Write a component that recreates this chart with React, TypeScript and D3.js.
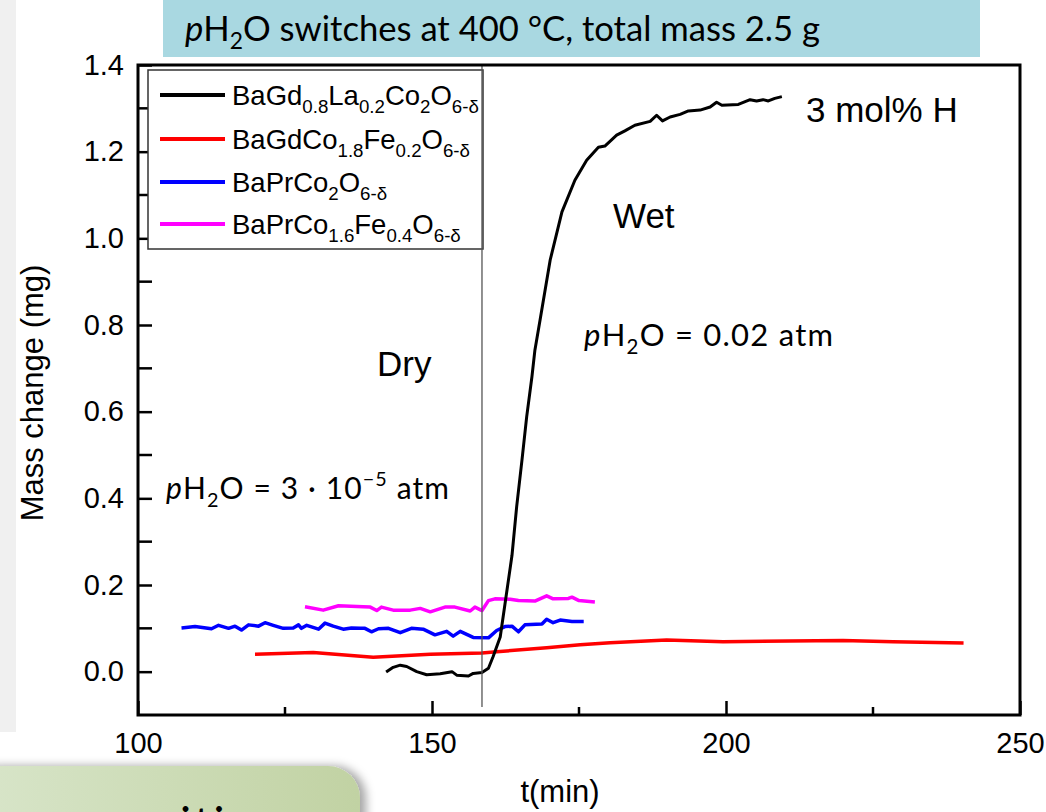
import React, { useRef, useEffect } from "react";
import * as d3 from "d3";

// BaGd0.8La0.2Co2O6-d (black)
const blackT = [142.2, 143.4, 144.6, 145.7, 147.4, 149.1, 151.4, 153.4, 154.2, 156.2, 157.0, 158.5, 159.6, 160.4, 161.6, 162.4, 163.6, 164.4, 165.3, 166.1, 167.0, 167.5, 168.4, 170.1, 172.1, 174.3, 176.3, 178.3, 179.4, 181.4, 182.8, 184.5, 187.1, 188.2, 189.2, 190.5, 192.2, 193.6, 195.6, 197.3, 198.4, 199.3, 202.1, 204.1, 205.2, 206.3, 207.2, 208.3, 209.5];
const blackM = [-0.001, 0.01, 0.015, 0.012, 0.0, -0.007, -0.005, 0.0, -0.008, -0.01, -0.004, -0.002, 0.008, 0.035, 0.08, 0.155, 0.268, 0.381, 0.488, 0.588, 0.681, 0.742, 0.813, 0.95, 1.061, 1.134, 1.18, 1.21, 1.213, 1.238, 1.248, 1.261, 1.27, 1.284, 1.271, 1.28, 1.286, 1.294, 1.296, 1.303, 1.314, 1.307, 1.309, 1.32, 1.317, 1.32, 1.317, 1.323, 1.327];

// BaGdCo1.8Fe0.2O6-d (red)
const redT = [119.9, 129.8, 140.0, 149.7, 158.5, 161.0, 169.5, 175.2, 180.3, 189.9, 199.5, 219.9, 228.4, 240.4];
const redM = [0.040, 0.044, 0.033, 0.040, 0.043, 0.046, 0.055, 0.062, 0.067, 0.073, 0.069, 0.072, 0.069, 0.066];

// BaPrCo2O6-d (blue)
const blueT = [107.4, 109.7, 112.5, 113.7, 115.4, 116.5, 117.6, 118.8, 120.5, 121.6, 123.0, 124.7, 126.4, 127.3, 127.8, 128.7, 130.7, 131.8, 133.2, 134.9, 136.3, 137.8, 138.6, 139.7, 140.9, 142.6, 144.6, 146.5, 148.5, 150.5, 152.5, 153.6, 154.8, 157.0, 159.6, 161.0, 162.4, 163.6, 164.7, 165.8, 168.7, 169.5, 170.6, 171.8, 173.8, 175.8];
const blueM = [0.101, 0.104, 0.099, 0.107, 0.100, 0.105, 0.096, 0.108, 0.105, 0.113, 0.107, 0.100, 0.101, 0.108, 0.100, 0.107, 0.098, 0.112, 0.105, 0.098, 0.101, 0.100, 0.100, 0.092, 0.099, 0.100, 0.090, 0.100, 0.098, 0.085, 0.093, 0.082, 0.093, 0.079, 0.078, 0.095, 0.104, 0.105, 0.092, 0.108, 0.110, 0.121, 0.113, 0.119, 0.116, 0.116];

// BaPrCo1.6Fe0.4O6-d (magenta)
const magT = [128.4, 131.5, 134.1, 138.3, 139.5, 140.6, 141.4, 143.4, 146.3, 148.0, 149.7, 152.2, 153.9, 156.5, 157.3, 158.5, 159.6, 160.7, 163.3, 164.7, 167.5, 169.5, 170.6, 173.2, 173.8, 175.0, 177.7];
const magM = [0.150, 0.142, 0.152, 0.150, 0.149, 0.141, 0.149, 0.142, 0.142, 0.146, 0.138, 0.149, 0.149, 0.140, 0.149, 0.141, 0.164, 0.168, 0.167, 0.164, 0.163, 0.175, 0.168, 0.169, 0.172, 0.164, 0.161];

const xTicks = [100, 150, 200, 250];
const xMinor = [125, 175, 225];
const yTicks = [0, 0.2, 0.4, 0.6, 0.8, 1.0, 1.2, 1.4];
const yMinor = [0.1, 0.3, 0.5, 0.7, 0.9, 1.1, 1.3];

const seriesColors = ["#000000", "#ff0000", "#0000ff", "#ff00ff"];
// segments: 0 = normal, 1 = subscript
const legendLabels: [string, number][][] = [
  [["BaGd", 0], ["0.8", 1], ["La", 0], ["0.2", 1], ["Co", 0], ["2", 1], ["O", 0], ["6-δ", 1]],
  [["BaGdCo", 0], ["1.8", 1], ["Fe", 0], ["0.2", 1], ["O", 0], ["6-δ", 1]],
  [["BaPrCo", 0], ["2", 1], ["O", 0], ["6-δ", 1]],
  [["BaPrCo", 0], ["1.6", 1], ["Fe", 0], ["0.4", 1], ["O", 0], ["6-δ", 1]],
];

const ARIAL = "'Liberation Sans', Arial, sans-serif";
const GILL = "Lato, 'Open Sans', sans-serif";

// 0 normal, 1 sub, 2 super, 3 italic
function richText(g, x, y, segs, size, family, subDy, subScale = 0.66) {
  const t = g.append("text").attr("x", x).attr("y", y)
    .style("font-family", family).style("font-size", size + "px").attr("fill", "#000");
  let shift = 0;
  segs.forEach(([s, k]) => {
    let target = 0;
    if (k === 1) target = subDy;
    if (k === 2) target = -size * 0.42;
    const ts = t.append("tspan").attr("dy", target - shift).text(s);
    if (k === 1 || k === 2) ts.style("font-size", size * subScale + "px");
    if (k === 3) ts.style("font-style", "italic");
    shift = target;
  });
  return t;
}

const Chart = () => {
  const svgRef = useRef(null);

  useEffect(() => {
    const width = 1046;
    const height = 812;
    const svg = d3.select(svgRef.current);
    svg.selectAll("*").remove();

    const x = d3.scaleLinear().domain([100, 250]).range([138, 1020]);
    const y = d3.scaleLinear().domain([-0.1, 1.4]).range([715, 65]);

    const defs = svg.append("defs");
    const grad = defs.append("linearGradient").attr("id", "greenGrad")
      .attr("x1", "0%").attr("x2", "100%").attr("y1", "0%").attr("y2", "0%");
    grad.append("stop").attr("offset", "0%").attr("stop-color", "#d9e6cb");
    grad.append("stop").attr("offset", "100%").attr("stop-color", "#c1d2a3");
    const shadow = defs.append("filter").attr("id", "shadow")
      .attr("x", "-20%").attr("y", "-20%").attr("width", "140%").attr("height", "140%");
    shadow.append("feDropShadow").attr("dx", 6).attr("dy", 0).attr("stdDeviation", 5)
      .attr("flood-color", "#000").attr("flood-opacity", 0.35);

    // backgrounds
    svg.append("rect").attr("x", 0).attr("y", 0).attr("width", 16).attr("height", 732).attr("fill", "#f0f0f0");
    svg.append("rect").attr("x", 163).attr("y", 0).attr("width", 817).attr("height", 57).attr("fill", "#a9d8e1");
    svg.append("rect").attr("x", -40).attr("y", 766).attr("width", 400).attr("height", 100).attr("rx", 32)
      .attr("fill", "url(#greenGrad)").attr("filter", "url(#shadow)");
    svg.append("text").attr("x", 180).attr("y", 840).style("font-family", GILL).style("font-size", "46px")
      .attr("letter-spacing", 3).text("iti");

    // title
    richText(svg, 185, 41, [["p", 3], ["H", 0], ["2", 1], ["O switches at 400 °C, total mass 2.5 g", 0]], 34, GILL, 8)
      .attr("textLength", 635).attr("lengthAdjust", "spacingAndGlyphs");

    // minor ticks
    svg.append("g").selectAll("line").data(xMinor).join("line")
      .attr("x1", d => x(d)).attr("x2", d => x(d)).attr("y1", 715).attr("y2", 707)
      .attr("stroke", "#000").attr("stroke-width", 2.5);
    svg.append("g").selectAll("line").data(yMinor).join("line")
      .attr("x1", 138).attr("x2", 152).attr("y1", d => y(d)).attr("y2", d => y(d))
      .attr("stroke", "#000").attr("stroke-width", 2.5);

    const xAxis = svg.append("g").attr("transform", "translate(0,715)")
      .call(d3.axisBottom(x).tickValues(xTicks).tickSize(-14).tickSizeOuter(0).tickPadding(17).tickFormat(d3.format("d")));
    const yAxis = svg.append("g").attr("transform", "translate(138,0)")
      .call(d3.axisLeft(y).tickValues(yTicks).tickSize(-14).tickSizeOuter(0).tickPadding(14).tickFormat(d3.format(".1f")));
    [xAxis, yAxis].forEach(a => {
      a.select(".domain").remove();
      a.selectAll("line").attr("stroke-width", 2.5);
      a.selectAll("text").style("font-family", ARIAL).style("font-size", "29px").attr("fill", "#000");
    });

    // series
    const series = [
      [blackT, blackM], [redT, redM], [blueT, blueM], [magT, magM],
    ];
    const line = d3.line().x(d => x(d[0])).y(d => y(d[1]));
    const order = [1, 2, 3, 0];
    order.forEach(i => {
      const [ts, ms] = series[i];
      const pts = ts.map((t, j) => [t, ms[j]]);
      svg.append("path").attr("d", line(pts)).attr("fill", "none")
        .attr("stroke", seriesColors[i]).attr("stroke-width", i === 0 ? 3 : 3.5)
        .attr("stroke-linejoin", "round");
    });

    // legend
    const lg = svg.append("g");
    lg.append("rect").attr("x", 148).attr("y", 70).attr("width", 335).attr("height", 179)
      .attr("fill", "#fff").attr("stroke", "#333").attr("stroke-width", 1.5);
    const rowY = [95, 139, 182, 224];
    legendLabels.forEach((segs, i) => {
      lg.append("line").attr("x1", 160).attr("x2", 225).attr("y1", rowY[i]).attr("y2", rowY[i])
        .attr("stroke", seriesColors[i]).attr("stroke-width", 4);
      richText(lg, 232, rowY[i] + 10, segs, 27.5, ARIAL, 8, 0.68);
    });

    // switch line
    svg.append("line").attr("x1", x(158.5)).attr("x2", x(158.5)).attr("y1", 65).attr("y2", 707)
      .attr("stroke", "#555").attr("stroke-width", 1.3);

    // frame
    svg.append("rect").attr("x", 138).attr("y", 65).attr("width", 882).attr("height", 650)
      .attr("fill", "none").attr("stroke", "#000").attr("stroke-width", 3);

    // axis titles
    svg.append("text").attr("transform", "translate(43,393) rotate(-90)").attr("text-anchor", "middle")
      .style("font-family", ARIAL).style("font-size", "31px").text("Mass change (mg)");
    svg.append("text").attr("x", 560).attr("y", 802).attr("text-anchor", "middle")
      .style("font-family", ARIAL).style("font-size", "31px").text("t(min)");

    // annotations
    const ann = (tx, ax, ay) => svg.append("text").attr("x", ax).attr("y", ay)
      .style("font-family", ARIAL).style("font-size", "35px").text(tx);
    ann("3 mol% H", 806, 122);
    ann("Wet", 613, 228);
    ann("Dry", 377, 376);
    richText(svg, 584, 346, [["p", 3], ["H", 0], ["2", 1], ["O = 0.02 atm", 0]], 31, GILL, 8)
      .attr("textLength", 249).attr("lengthAdjust", "spacing");
    richText(svg, 166, 499, [["p", 3], ["H", 0], ["2", 1], ["O = 3  · 10", 0], ["−5", 2], [" atm", 0]], 30, GILL, 8)
      .attr("textLength", 283).attr("lengthAdjust", "spacing");

    svg.attr("width", width).attr("height", height);
  }, []);

  return (
    <svg ref={svgRef} width={1046} height={812}
      style={{ position: "absolute", left: 0, top: 0, background: "#fff" }} />
  );
};

export default function App() {
  return <Chart />;
}
